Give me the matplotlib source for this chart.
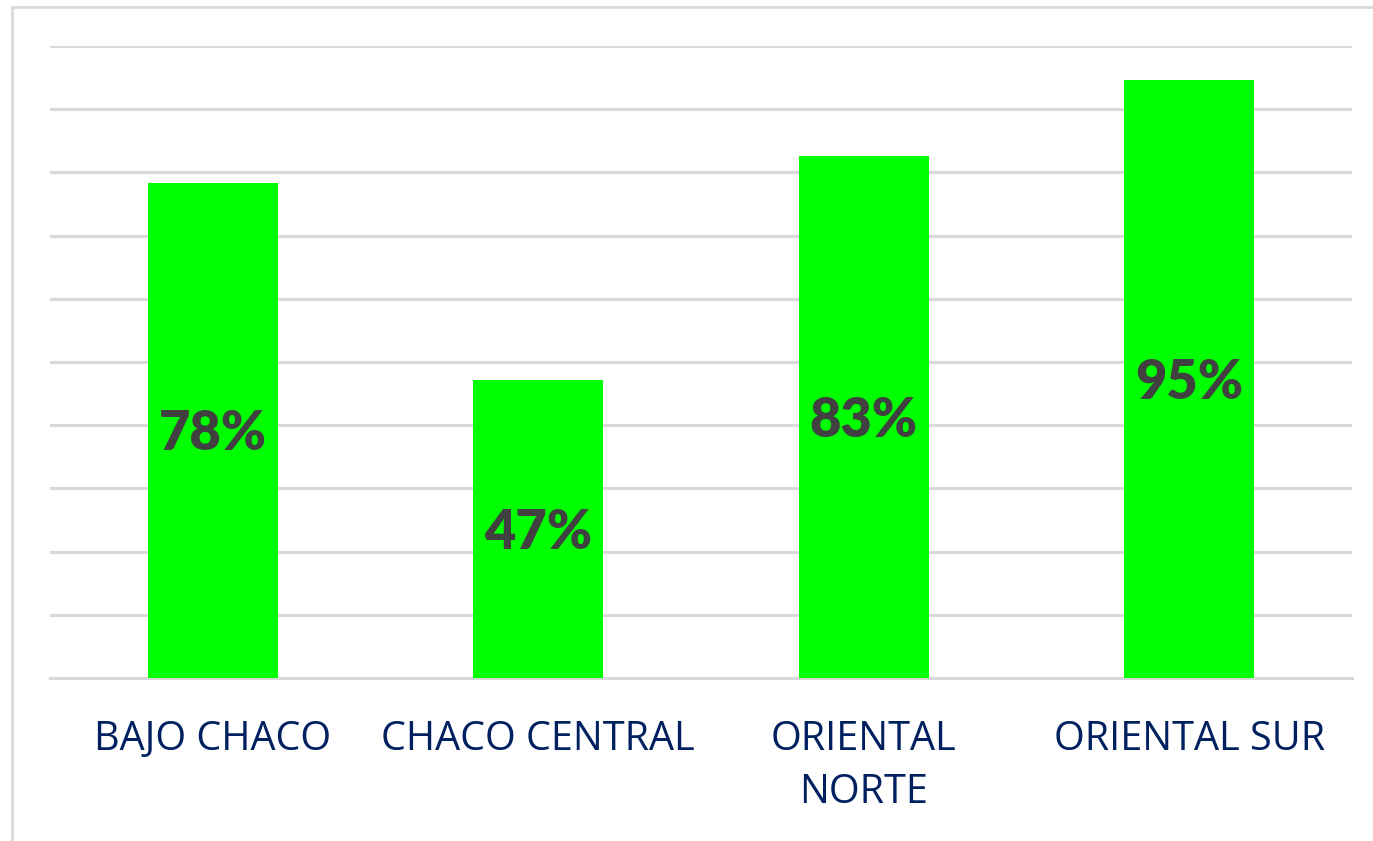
import matplotlib.pyplot as plt
from matplotlib.patches import Rectangle

# data
regiones = ['BAJO CHACO', 'CHACO CENTRAL', 'ORIENTAL\nNORTE', 'ORIENTAL SUR']
porcentajes = [78.3, 47.2, 82.6, 94.6]
etiquetas = ['78%', '47%', '83%', '95%']

plt.rcParams['font.family'] = ['Open Sans', 'DejaVu Sans']

fig = plt.figure(figsize=(13.73, 8.41), dpi=100)
ax = fig.add_axes([50 / 1373, 1 - 678 / 841, 1302 / 1373, 632 / 841])

x = range(len(regiones))
bars = ax.bar(x, porcentajes, width=0.4, color='#00FF00', zorder=3)

for b, txt in zip(bars, etiquetas):
    ax.text(b.get_x() + b.get_width() / 2, b.get_height() / 2 - 0.6, txt,
            ha='center', va='center', fontsize=39, fontweight='heavy',
            family=['Lato', 'DejaVu Sans'], color='#404040', zorder=4)

ax.set_xlim(-0.5, len(regiones) - 0.5)
ax.set_ylim(0, 100)
ax.set_yticks(range(0, 101, 10))
ax.yaxis.grid(True, color='#D9D9D9', linewidth=2.2, zorder=0)
ax.tick_params(axis='y', left=False, labelleft=False)
ax.set_xticks(list(x))
ax.set_xticklabels(regiones, fontsize=28.5, color='#002060', linespacing=1.42)
ax.tick_params(axis='x', length=0, pad=30)
for s in ['top', 'right', 'left']:
    ax.spines[s].set_visible(False)
ax.spines['bottom'].set_color('#D9D9D9')
ax.spines['bottom'].set_linewidth(2.2)

# light chart frame (right/bottom edges fall outside the picture)
fig.patches.append(Rectangle((12 / 1373, -0.1), 1.2, 1 - 7 / 841 + 0.1,
                             transform=fig.transFigure, fill=False,
                             edgecolor='#D9D9D9', linewidth=2))

fig.savefig('out.png', dpi=100)
